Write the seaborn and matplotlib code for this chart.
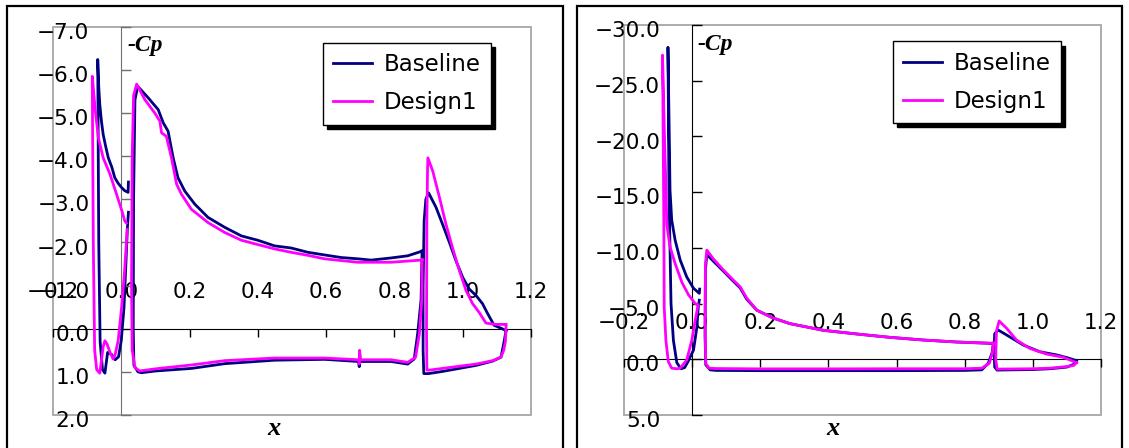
import matplotlib
matplotlib.use("Agg")
import matplotlib.pyplot as plt
from matplotlib.patches import Rectangle
from matplotlib.ticker import FuncFormatter
from matplotlib.transforms import ScaledTranslation
import seaborn as sns
import pandas as pd

cases = ["Baseline", "Design1"]
palette = {"Baseline": "#000080", "Design1": "#FF00FF"}
x_ticks = [-0.2, 0.0, 0.2, 0.4, 0.6, 0.8, 1.0, 1.2]
left_yticks = [-7, -6, -5, -4, -3, -2, -1, 0, 1, 2]
right_yticks = [-30, -25, -20, -15, -10, -5, 0, 5]

# each loop runs TE lower surface -> leading edge -> TE upper surface
# ---- left chart ----
l_base_slat_x = [0.021, 0.018, 0.014, 0.008, 0.0, -0.008, -0.018, -0.028, -0.040, -0.048,
                 -0.055, -0.062, -0.066, -0.069, -0.066, -0.063, -0.058, -0.053, -0.045,
                 -0.038, -0.028, -0.019, -0.010, 0.001, 0.010, 0.020, 0.021]
l_base_slat_cp = [-2.7, -2.35, -1.6, -0.5, 0.27, 0.65, 0.72, 0.6, 0.55, 1.03,
                  0.95, 0.3, -2.0, -6.24, -5.6, -5.2, -4.8, -4.5, -4.2,
                  -3.96, -3.75, -3.5, -3.38, -3.27, -3.2, -3.16, -3.4]
l_des_slat_x = [0.017, 0.015, 0.009, 0.001, -0.009, -0.018, -0.024, -0.033, -0.042, -0.048,
                -0.053, -0.063, -0.072, -0.078, -0.082, -0.085, -0.080, -0.077, -0.067,
                -0.053, -0.033, -0.014, 0.003, 0.010, 0.015]
l_des_slat_cp = [-2.3, -2.0, -1.27, -0.5, 0.27, 0.6, 0.7, 0.55, 0.35, 0.28,
                 0.42, 1.03, 0.95, 0.5, -2.0, -5.85, -5.4, -5.12, -4.42,
                 -3.96, -3.58, -3.12, -2.7, -2.5, -2.45]

l_base_main_x = [0.881, 0.878, 0.868, 0.858, 0.839, 0.79, 0.70, 0.698, 0.697, 0.695,
                 0.595, 0.449, 0.303, 0.206, 0.10, 0.059, 0.049, 0.037, 0.035, 0.036,
                 0.040, 0.048, 0.079, 0.108, 0.123, 0.137, 0.152, 0.166, 0.186, 0.215,
                 0.254, 0.303, 0.352, 0.400, 0.449, 0.498, 0.547, 0.595, 0.644, 0.693,
                 0.732, 0.79, 0.839, 0.878, 0.881]
l_base_main_cp = [-1.8, -0.67, 0.12, 0.7, 0.82, 0.76, 0.76, 0.55, 0.88, 0.76,
                  0.71, 0.73, 0.81, 0.92, 0.98, 1.02, 1.0, 0.85, 0.0, -3.0,
                  -5.3, -5.62, -5.35, -5.08, -4.77, -4.58, -3.96, -3.5, -3.19, -2.89,
                  -2.58, -2.35, -2.15, -2.05, -1.92, -1.87, -1.77, -1.71, -1.65, -1.62,
                  -1.59, -1.64, -1.69, -1.79, -1.8]
l_des_main_x = [0.881, 0.880, 0.873, 0.862, 0.839, 0.79, 0.70, 0.698, 0.697, 0.695,
                0.595, 0.449, 0.303, 0.206, 0.10, 0.054, 0.040, 0.032, 0.030, 0.032,
                0.036, 0.045, 0.069, 0.098, 0.113, 0.118, 0.132, 0.147, 0.162, 0.176,
                0.205, 0.254, 0.303, 0.352, 0.400, 0.449, 0.498, 0.547, 0.595, 0.644,
                0.693, 0.79, 0.878, 0.881]
l_des_main_cp = [-1.6, -0.67, 0.12, 0.66, 0.78, 0.72, 0.72, 0.5, 0.82, 0.72,
                 0.68, 0.68, 0.74, 0.84, 0.93, 0.98, 0.9, 0.5, -1.0, -4.0,
                 -5.4, -5.67, -5.31, -5.0, -4.81, -4.54, -4.46, -3.96, -3.35, -3.12,
                 -2.77, -2.46, -2.23, -2.05, -1.95, -1.85, -1.77, -1.70, -1.62, -1.58,
                 -1.54, -1.54, -1.59, -1.6]

l_base_flap_x = [1.127, 1.12, 1.112, 1.088, 1.039, 0.99, 0.941, 0.90, 0.886, 0.884,
                 0.884, 0.887, 0.892, 0.900, 0.922, 0.941, 0.961, 0.980, 1.0, 1.019,
                 1.039, 1.058, 1.073, 1.092, 1.127]
l_base_flap_cp = [0.04, 0.35, 0.66, 0.75, 0.85, 0.92, 0.99, 1.04, 1.04, 0.5,
                  -1.0, -2.5, -3.0, -3.15, -2.81, -2.42, -2.0, -1.58, -1.19, -0.92,
                  -0.77, -0.58, -0.35, -0.08, 0.04]
l_des_flap_x = [1.127, 1.125, 1.12, 1.112, 1.088, 1.039, 0.99, 0.941, 0.902, 0.895,
                0.894, 0.895, 0.897, 0.898, 0.912, 0.932, 0.951, 0.970, 0.99, 1.01,
                1.029, 1.048, 1.068, 1.097, 1.127]
l_des_flap_cp = [-0.05, 0.3, 0.5, 0.66, 0.74, 0.82, 0.87, 0.92, 0.96, 0.96,
                 0.0, -2.5, -3.7, -3.96, -3.66, -3.04, -2.42, -1.88, -1.35, -0.88,
                 -0.58, -0.38, -0.13, -0.1, -0.1]

# ---- right chart ----
r_base_slat_x = [0.021, 0.018, 0.014, 0.004, -0.012, -0.022, -0.033, -0.045, -0.055, -0.062,
                 -0.068, -0.071, -0.067, -0.065, -0.060, -0.050, -0.035, -0.016, 0.004,
                 0.021, 0.022]
r_base_slat_cp = [-5.3, -4.7, -2.9, -0.83, 0.2, 0.75, 0.85, 0.3, -1.7, -5.0,
                  -15.0, -28.0, -19.7, -15.2, -12.5, -10.7, -8.9, -7.4, -6.37,
                  -5.92, -6.3]
r_des_slat_x = [0.017, 0.009, -0.001, -0.016, -0.035, -0.045, -0.060, -0.070, -0.077, -0.082,
                -0.083, -0.085, -0.087, -0.081, -0.077, -0.074, -0.065, -0.050, -0.030,
                -0.011, 0.009, 0.017]
r_des_slat_cp = [-4.8, -3.5, -1.7, 0.07, 0.8, 0.85, 0.8, 0.2, -1.7, -4.7,
                 -12.0, -20.0, -27.3, -19.7, -15.5, -12.0, -10.1, -8.6, -6.9,
                 -5.8, -5.0, -4.9]

r_base_main_x = [0.884, 0.880, 0.869, 0.85, 0.80, 0.60, 0.40, 0.20, 0.07, 0.053,
                 0.040, 0.038, 0.039, 0.043, 0.0625, 0.092, 0.121, 0.141, 0.16, 0.19,
                 0.238, 0.287, 0.385, 0.483, 0.58, 0.678, 0.776, 0.874, 0.884]
r_base_main_cp = [-1.4, -0.54, 0.36, 0.95, 1.0, 1.02, 1.02, 1.02, 1.0, 0.95,
                  0.5, -2.0, -8.0, -9.4, -8.8, -7.9, -7.0, -6.4, -5.4, -4.4,
                  -3.7, -3.2, -2.6, -2.27, -1.97, -1.73, -1.55, -1.43, -1.4]
r_des_main_x = [0.884, 0.881, 0.872, 0.85, 0.80, 0.60, 0.40, 0.20, 0.07, 0.050,
                0.040, 0.038, 0.039, 0.043, 0.0625, 0.092, 0.121, 0.141, 0.16, 0.19,
                0.238, 0.287, 0.385, 0.483, 0.58, 0.678, 0.776, 0.874, 0.884]
r_des_main_cp = [-1.45, -0.54, 0.36, 0.8, 0.85, 0.85, 0.86, 0.86, 0.83, 0.8,
                 0.4, -3.0, -8.5, -9.8, -9.0, -8.0, -7.1, -6.5, -5.5, -4.4,
                 -3.7, -3.2, -2.6, -2.27, -1.97, -1.73, -1.55, -1.45, -1.45]

r_base_flap_x = [1.128, 1.12, 1.10, 1.05, 1.0, 0.93, 0.895, 0.888, 0.886, 0.888,
                 0.898, 0.923, 0.972, 1.02, 1.07, 1.10, 1.128]
r_base_flap_cp = [0.12, 0.45, 0.7, 0.85, 0.92, 0.95, 0.97, 0.7, -1.0, -2.3,
                  -2.63, -2.18, -1.28, -0.68, -0.39, -0.15, 0.12]
r_des_flap_x = [1.128, 1.12, 1.10, 1.05, 1.0, 0.93, 0.895, 0.891, 0.893, 0.901,
                0.923, 0.952, 0.991, 1.04, 1.089, 1.128]
r_des_flap_cp = [0.3, 0.55, 0.65, 0.8, 0.85, 0.87, 0.88, 0.0, -2.5, -3.44,
                 -2.78, -1.73, -0.98, -0.47, -0.18, 0.3]


def build(loops):
    rows = []
    for case, elem, xs, cps in loops:
        for a, b in zip(xs, cps):
            rows.append({"case": case, "element": elem, "x": a, "cp": b})
    return pd.DataFrame(rows)


left_df = build([
    ("Baseline", "slat", l_base_slat_x, l_base_slat_cp),
    ("Baseline", "main", l_base_main_x, l_base_main_cp),
    ("Baseline", "flap", l_base_flap_x, l_base_flap_cp),
    ("Design1", "slat", l_des_slat_x, l_des_slat_cp),
    ("Design1", "main", l_des_main_x, l_des_main_cp),
    ("Design1", "flap", l_des_flap_x, l_des_flap_cp),
])
right_df = build([
    ("Baseline", "slat", r_base_slat_x, r_base_slat_cp),
    ("Baseline", "main", r_base_main_x, r_base_main_cp),
    ("Baseline", "flap", r_base_flap_x, r_base_flap_cp),
    ("Design1", "slat", r_des_slat_x, r_des_slat_cp),
    ("Design1", "main", r_des_main_x, r_des_main_cp),
    ("Design1", "flap", r_des_flap_x, r_des_flap_cp),
])

fmt = FuncFormatter(lambda v, p: f"{v + 0:.1f}".replace("-", "\u2212"))
FS = 15.5


def panel(fig, ax, df, ylim, yticks, vcolor, xlab_pos):
    sns.lineplot(data=df, x="x", y="cp", hue="case", hue_order=cases, units="element",
                 estimator=None, sort=False, palette=palette, lw=2.0, ax=ax, zorder=3)
    ax.set_xlim(-0.2, 1.2)
    ax.set_ylim(ylim)
    ax.set_xlabel("")
    ax.set_ylabel("")
    for s in ["top", "right"]:
        ax.spines[s].set_visible(False)
    ax.spines["left"].set_position(("data", 0))
    ax.spines["bottom"].set_position(("data", 0))
    ax.spines["left"].set_color(vcolor)
    ax.spines["bottom"].set_color("black")
    ax.add_patch(Rectangle((0, 0), 1, 1, transform=ax.transAxes, fill=False,
                           ec="#a6a6a6", lw=1.3, clip_on=False, zorder=1))
    ax.set_xticks(x_ticks)
    ax.set_yticks(yticks)
    ax.xaxis.set_major_formatter(fmt)
    ax.yaxis.set_major_formatter(fmt)
    ax.tick_params(axis="x", direction="out", length=6, width=1, pad=-39.5,
                   labelsize=FS, color="black")
    ax.tick_params(axis="y", direction="in", length=7, width=1, pad=23,
                   labelsize=FS, color=vcolor)
    off = ScaledTranslation(0, -3 / 72, fig.dpi_scale_trans)
    for lab in ax.get_yticklabels():
        lab.set_transform(lab.get_transform() + off)

    handles, labels = ax.get_legend_handles_labels()
    leg = ax.legend(handles, labels, loc="upper right", bbox_to_anchor=(0.916, 0.958),
                    fancybox=False, shadow={"ox": 3, "oy": -3, "color": "black", "alpha": 1},
                    edgecolor="black", framealpha=1, fontsize=16.5, handlelength=1.7,
                    handletextpad=0.5, borderpad=0.45, labelspacing=0.65, borderaxespad=0)
    leg.get_frame().set_linewidth(1.0)

    ax.text(0.155, 0.978, "-Cp", transform=ax.transAxes, ha="left", va="top",
            fontsize=17, family="Liberation Serif", weight="bold", style="italic")
    ax.text(xlab_pos, -0.035, "x", transform=ax.transAxes, ha="center", va="center",
            fontsize=19, family="Liberation Serif", weight="bold", style="italic")


W, H = 1129, 448
fig = plt.figure(figsize=(W / 100, H / 100), dpi=100)
ax1 = fig.add_axes([53 / W, 1 - 415 / H, (531 - 53) / W, (415 - 26.7) / H])
ax2 = fig.add_axes([624 / W, 1 - 415 / H, (1101 - 624) / W, (415 - 25) / H])

panel(fig, ax1, left_df, (2, -7), left_yticks, "#707070", 0.462)
panel(fig, ax2, right_df, (5, -30), right_yticks, "black", 0.438)

for x0, x1 in [(7, 563), (577, 1122)]:
    fig.add_artist(Rectangle((x0 / W, -0.1), (x1 - x0) / W, 1.1 - 6 / H,
                             transform=fig.transFigure, fill=False, ec="black", lw=1.6))

fig.savefig("out.png", dpi=100, facecolor="white")
